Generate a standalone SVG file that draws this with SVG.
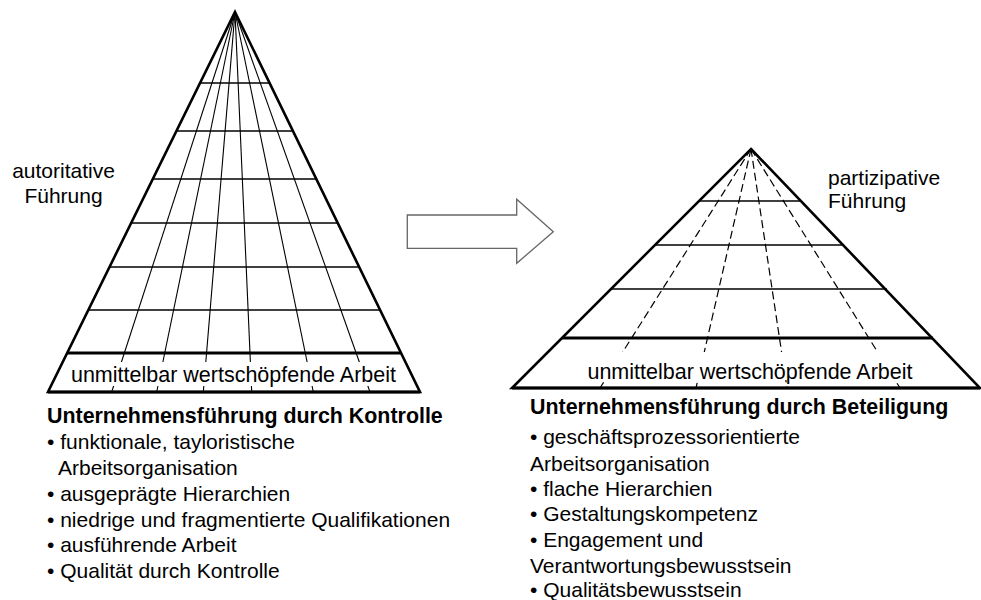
<svg xmlns="http://www.w3.org/2000/svg" width="981" height="600" viewBox="0 0 981 600">
<style>
text{font-family:"Liberation Sans",Arial,sans-serif;font-size:21px;fill:#000}
.b{font-weight:bold;font-size:21.4px}
.band{font-size:21.5px}
.edge{stroke:#000;stroke-width:2.6;fill:none;stroke-linejoin:miter}
.h{stroke:#000;stroke-width:1.4}
.r{stroke:#000;stroke-width:1.1}
.d{stroke:#000;stroke-width:1.2;stroke-dasharray:8 4}
.thick{stroke:#000;stroke-width:3}
</style>
<rect width="981" height="600" fill="#fff"/>

<g id="left-pyramid">
  <g id="left-radials">
    <line class="r" x1="235" y1="12" x2="111.7" y2="392"/>
    <line class="r" x1="235" y1="12" x2="156.7" y2="392"/>
    <line class="r" x1="235" y1="12" x2="203.3" y2="392"/>
    <line class="r" x1="235" y1="12" x2="251.7" y2="392"/>
    <line class="r" x1="235" y1="12" x2="313.3" y2="392"/>
    <line class="r" x1="235" y1="12" x2="370" y2="392"/>
  </g>
  <g id="left-rows">
    <line class="h" x1="200.1" y1="83" x2="269.6" y2="83"/>
    <line class="h" x1="176.5" y1="131" x2="293" y2="131"/>
    <line class="h" x1="152.8" y1="179" x2="316.3" y2="179"/>
    <line class="h" x1="131.2" y1="223" x2="337.8" y2="223"/>
    <line class="h" x1="109.5" y1="267" x2="359.2" y2="267"/>
    <line class="h" x1="88.4" y1="310" x2="380.1" y2="310"/>
  </g>
  <line class="thick" x1="67.2" y1="353" x2="401.1" y2="353"/>
  <rect x="66" y="362" width="337" height="24" fill="#fff"/>
  <polygon class="edge" points="235,12 420,392 48,392"/>
  <line class="thick" x1="48" y1="392" x2="420" y2="392"/>
  <text class="band" x="233.5" y="382" text-anchor="middle">unmittelbar wertschöpfende Arbeit</text>
</g>

<g id="left-label">
  <text x="63.5" y="178" text-anchor="middle">autoritative</text>
  <text x="63.5" y="203" text-anchor="middle">Führung</text>
</g>

<g id="left-list">
  <text class="b" x="47" y="423">Unternehmensführung durch Kontrolle</text>
  <text x="47" y="449">• funktionale, tayloristische</text>
  <text x="58" y="475">Arbeitsorganisation</text>
  <text x="47" y="501">• ausgeprägte Hierarchien</text>
  <text x="47" y="527">• niedrige und fragmentierte Qualifikationen</text>
  <text x="47" y="552">• ausführende Arbeit</text>
  <text x="47" y="578">• Qualität durch Kontrolle</text>
</g>

<g id="connectors">
  <polygon points="407.3,215 516.7,215 516.7,199.3 553.3,231.7 516.7,263.3 516.7,248.3 407.3,248.3" fill="#fff" stroke="#666" stroke-width="1.3"/>
</g>

<g id="right-pyramid">
  <g id="right-radials">
    <line class="d" x1="751" y1="149" x2="600" y2="388"/>
    <line class="d" x1="751" y1="149" x2="696" y2="388"/>
    <line class="d" x1="751" y1="149" x2="787" y2="388"/>
    <line class="d" x1="751" y1="149" x2="900" y2="388"/>
  </g>
  <g id="right-rows">
    <line class="h" x1="699" y1="201" x2="801" y2="201"/>
    <line class="h" x1="655" y1="245" x2="844" y2="245"/>
    <line class="h" x1="611" y1="289" x2="887" y2="289"/>
  </g>
  <line class="thick" x1="562" y1="338" x2="933" y2="338"/>
  <rect x="560" y="352" width="372" height="28" fill="#fff"/>
  <polygon class="edge" points="751,149 980,388 512,388"/>
  <line class="thick" x1="512" y1="388" x2="980" y2="388"/>
  <text class="band" x="750" y="379" text-anchor="middle">unmittelbar wertschöpfende Arbeit</text>
</g>

<g id="right-label">
  <text x="828" y="185">partizipative</text>
  <text x="828" y="208">Führung</text>
</g>

<g id="right-list">
  <text class="b" x="530" y="414">Unternehmensführung durch Beteiligung</text>
  <text x="530" y="444">• geschäftsprozessorientierte</text>
  <text x="530" y="471">Arbeitsorganisation</text>
  <text x="530" y="496">• flache Hierarchien</text>
  <text x="530" y="521">• Gestaltungskompetenz</text>
  <text x="530" y="547">• Engagement und</text>
  <text x="530" y="573">Verantwortungsbewusstsein</text>
  <text x="530" y="597">• Qualitätsbewusstsein</text>
</g>
</svg>
